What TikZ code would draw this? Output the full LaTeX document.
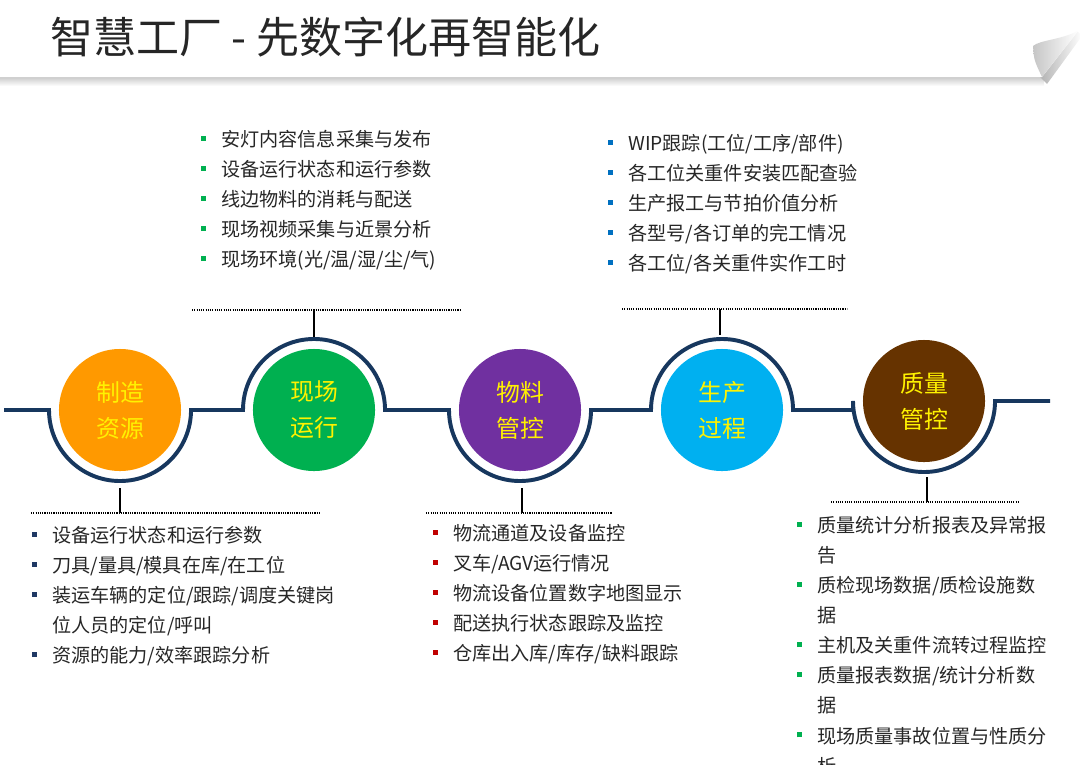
\documentclass[tikz,border=0pt]{standalone}
\usepackage{fontspec}
\setmainfont{Noto Sans CJK SC}
\usetikzlibrary{calc,positioning}

\definecolor{ringblue}{HTML}{17375E}
\definecolor{textgray}{HTML}{262626}
\definecolor{cOrange}{HTML}{FF9900}
\definecolor{cGreen}{HTML}{00B050}
\definecolor{cPurple}{HTML}{7030A0}
\definecolor{cBlue}{HTML}{00B0F0}
\definecolor{cBrown}{HTML}{663300}
\definecolor{bBlue}{HTML}{0070C0}
\definecolor{bNavy}{HTML}{1F3864}
\definecolor{bRed}{HTML}{C00000}

\newcommand{\sq}[1]{\llap{\textcolor{#1}{\rule[0.3em]{3.6pt}{3.6pt}}\hspace{11pt}}}

\begin{document}
\begin{tikzpicture}[x=0.025cm, y=0.025cm,
  ring/.style={draw=ringblue, line width=2.8pt},
  hub/.style={circle, minimum size=3.05cm, inner sep=0pt, text=yellow, align=center, font=\fontsize{17}{25.6}\selectfont},
  stub/.style={line width=1.2pt},
  bar/.style={line width=0.9pt, dash pattern=on 0.8pt off 0.8pt},
  items/.style={anchor=north west, inner sep=0pt, align=left, text=textgray, font=\fontsize{13.6}{21.4}\selectfont}]

  \useasboundingbox (0,0) rectangle (1080,-764);

  % title banner with curled corner
  \shade[top color=gray!55, bottom color=white] (0,-74) rectangle (1044,-86);
  \shade[left color=gray!60, right color=white] (1040,-77) -- (1077,-31) -- (1082,-36) -- (1047,-84) -- cycle;
  \fill[white] (0,0) -- (1080,0) -- (1078,-31) -- (1042,-77) -- (0,-77) -- cycle;
  \shade[left color=gray!45, right color=white] (1042,-77) -- (1078,-31) .. controls (1060,-40) and (1040,-40) .. (1033,-46) .. controls (1034,-60) .. cycle;
  \node[anchor=west, inner sep=0pt, text=textgray, font=\fontsize{30.6}{36}\selectfont] (title) at (50,-37) {智慧工厂 - 先数字化再智能化};

  \node[hub, fill=cOrange] (res) at (120,-410) {制造\\资源};
  \node[hub, fill=cGreen] (site) at (314,-410) {现场\\运行};
  \node[hub, fill=cPurple] (mat) at (520,-410) {物料\\管控};
  \node[hub, fill=cBlue] (prod) at (722,-410) {生产\\过程};
  \node[hub, fill=cBrown] (qual) at (924,-401) {质量\\管控};

  \coordinate (lstart) at (4,-410);
  \coordinate (lend) at (1050,-401);
  \draw[ring] (lstart) -- ($(res)+(-71,0)$) arc[start angle=180, end angle=360, radius=1.775cm]
    -- ($(site)+(-71,0)$) arc[start angle=180, end angle=0, radius=1.775cm]
    -- ($(mat)+(-71,0)$) arc[start angle=180, end angle=360, radius=1.775cm]
    -- ($(prod)+(-71,0)$) arc[start angle=180, end angle=0, radius=1.775cm]
    -- ($(qual)+(-71,-9)$) -- ($(qual)+(-71,0)$) arc[start angle=180, end angle=360, radius=1.775cm]
    -- (lend);

  \coordinate (sitebar) at (314,-310);
  \coordinate (prodbar) at (720,-309);
  \coordinate (resbar) at (120,-513);
  \coordinate (matbar) at (522,-513);
  \coordinate (qualbar) at (927,-502);

  \draw[bar] (sitebar) ++(-122,0) -- ++(268,0);
  \draw[bar] (prodbar) ++(-98,0) -- ++(225,0);
  \draw[bar] (resbar) ++(-89,0) -- ++(289,0);
  \draw[bar] (matbar) ++(-96,0) -- ++(186,0);
  \draw[bar] (qualbar) ++(-96,0) -- ++(187,0);

  \draw[stub] (sitebar) -- ($(site)+(0,73)$);
  \draw[stub] (prodbar) -- ($(prod)+(-2,75)$);
  \draw[stub] (resbar) -- ($(res)+(0,-78)$);
  \draw[stub] (matbar) -- ($(mat)+(2,-78)$);
  \draw[stub] (qualbar) -- ($(qual)+(3,-76)$);

  \node[items] (sitelist) at (221,-130) {\sq{cGreen}安灯内容信息采集与发布\\
    \sq{cGreen}设备运行状态和运行参数\\
    \sq{cGreen}线边物料的消耗与配送\\
    \sq{cGreen}现场视频采集与近景分析\\
    \sq{cGreen}现场环境(光/温/湿/尘/气)};
  \node[items] (prodlist) at (628,-134) {\sq{bBlue}WIP跟踪(工位/工序/部件)\\
    \sq{bBlue}各工位关重件安装匹配查验\\
    \sq{bBlue}生产报工与节拍价值分析\\
    \sq{bBlue}各型号/各订单的完工情况\\
    \sq{bBlue}各工位/各关重件实作工时};
  \node[items] (reslist) at (52,-526) {\sq{bNavy}设备运行状态和运行参数\\
    \sq{bNavy}刀具/量具/模具在库/在工位\\
    \sq{bNavy}装运车辆的定位/跟踪/调度关键岗\\
    位人员的定位/呼叫\\
    \sq{bNavy}资源的能力/效率跟踪分析};
  \node[items] (matlist) at (453,-524) {\sq{bRed}物流通道及设备监控\\
    \sq{bRed}叉车/AGV运行情况\\
    \sq{bRed}物流设备位置数字地图显示\\
    \sq{bRed}配送执行状态跟踪及监控\\
    \sq{bRed}仓库出入库/库存/缺料跟踪};
  \node[items] (quallist) at (817,-516) {\sq{cGreen}质量统计分析报表及异常报\\
    告\\
    \sq{cGreen}质检现场数据/质检设施数\\
    据\\
    \sq{cGreen}主机及关重件流转过程监控\\
    \sq{cGreen}质量报表数据/统计分析数\\
    据\\
    \sq{cGreen}现场质量事故位置与性质分\\
    析};
\end{tikzpicture}
\end{document}
